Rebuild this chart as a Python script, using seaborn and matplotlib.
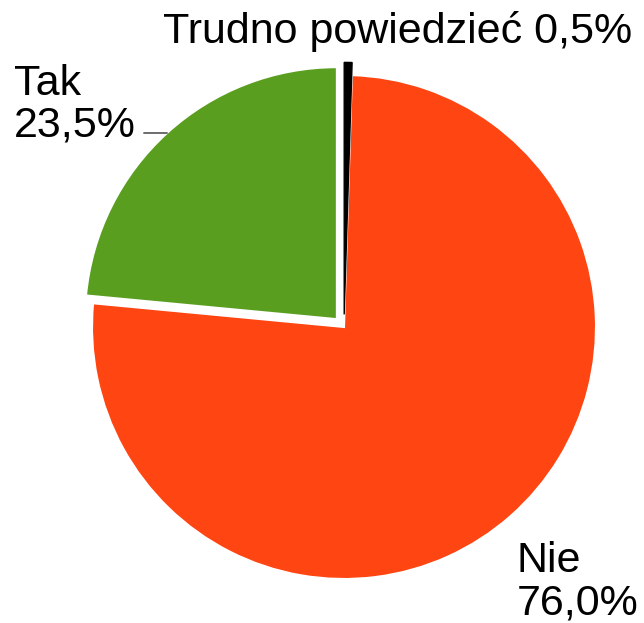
import matplotlib
matplotlib.use("Agg")
import matplotlib.pyplot as plt
import seaborn as sns

categories = ['Tak', 'Nie', 'Trudno powiedzieć']
values = [23.5, 76.0, 0.5]
value_labels = ['23,5%', '76,0%', '0,5%']
colors = ['#5a9e1f', '#ff4511', '#000000']
explode = [0.042, 0.0, 0.05]

sns.set_theme(style='white')
plt.rcParams['font.family'] = ['Liberation Sans', 'DejaVu Sans']

W, H = 644, 623
fig = plt.figure(figsize=(W / 100, H / 100), dpi=100)
ax = fig.add_axes([0, 0, 1, 1])

# pie centre / radius in pixels
cx, cy, r = 344, 327, 252
wedges, _ = ax.pie(values, colors=colors, explode=explode, startangle=90,
                   counterclock=True, radius=1,
                   wedgeprops=dict(edgecolor='white', linewidth=1.5))
wedges[2].set_edgecolor('black')
wedges[2].set_linewidth(1)
ax.set_aspect('auto')
ax.set_xlim(-cx / r, (W - cx) / r)
ax.set_ylim(-(H - cy) / r, cy / r)
ax.axis('off')

fs = 31
def fp(x, y):
    return (x / W, 1 - y / H)

fig.text(*fp(398, 43), f'{categories[2]} {value_labels[2]}', ha='center',
         va='baseline', fontsize=fs, color='black')
fig.text(*fp(14, 137), f'{categories[0]}\n{value_labels[0]}', ha='left',
         va='baseline', fontsize=fs, color='black', linespacing=1.05)
fig.text(*fp(517, 614), f'{categories[1]}\n{value_labels[1]}', ha='left',
         va='baseline', fontsize=fs, color='black', linespacing=1.05)

ax.annotate('', xy=fp(170, 133), xytext=fp(141, 133),
            xycoords='figure fraction', textcoords='figure fraction',
            arrowprops=dict(arrowstyle='-', color='#333333', lw=1))

fig.savefig('out.png', dpi=100)
